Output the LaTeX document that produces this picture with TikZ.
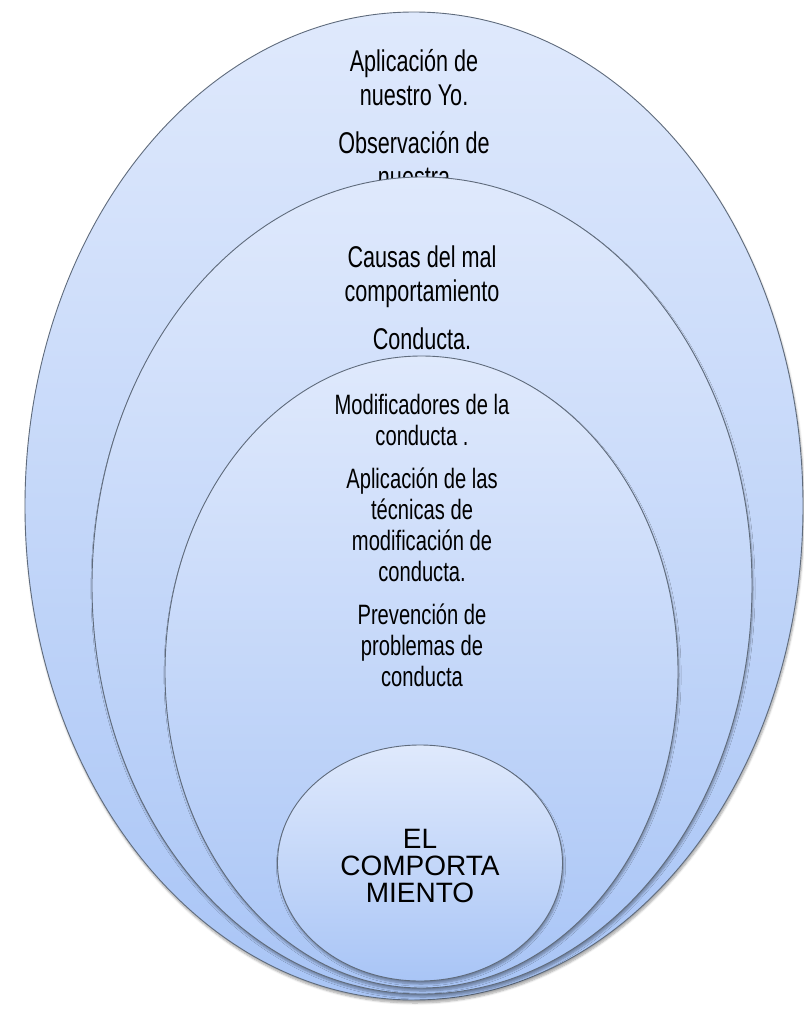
\documentclass[tikz,border=0pt]{standalone}
\usepackage{fontspec}
\setmainfont{Liberation Sans}
\newfontfamily\agency[FakeStretch=0.72]{Liberation Sans}
\usetikzlibrary{shapes.geometric,shadows.blur}
\definecolor{topblue}{HTML}{DFE9FC}
\definecolor{botblue}{HTML}{A9C5F6}
\definecolor{edgegray}{HTML}{5F6B7C}
\tikzset{
  ring/.style={ellipse, draw=edgegray, line width=0.9pt, top color=topblue, bottom color=botblue,
    inner sep=0pt, blur shadow={shadow xshift=1pt, shadow yshift=-3pt, shadow blur steps=6, shadow opacity=35}},
  lbl/.style={align=center, font=\agency\fontsize{30}{34}\selectfont, text=black, inner sep=0pt},
  lblsmall/.style={align=center, font=\agency\fontsize{28}{31}\selectfont, text=black, inner sep=0pt},
  core/.style={align=center, font=\fontsize{28}{27}\selectfont, text=black, inner sep=0pt}
}
\begin{document}
\begin{tikzpicture}[x=1pt,y=-1pt]
\useasboundingbox (0,0) rectangle (803,1009);
\node[ring, minimum width=778pt, minimum height=988pt] (outer) at (414,506) {};
\node[lbl] (t1) at (414,78) {Aplicación  de\\nuestro Yo.};
\node[lbl] (t2) at (414,160) {Observación  de\\nuestra};
\node[ring, minimum width=660pt, minimum height=817pt] (second) at (422,585.5) {};
\node[lbl] (t3) at (422,277) {Causas  del mal\\comportamiento};
\node[lbl] (t4) at (422,339) {Conducta.};
\node[ring, minimum width=513pt, minimum height=632pt] (third) at (421.5,672) {};
\node[lblsmall] (t5) at (422,419.5) {Modificadores  de la\\conducta  .};
\node[lblsmall] (t6) at (422,525) {Aplicación  de las\\técnicas  de\\modificación  de\\conducta.};
\node[lblsmall] (t7) at (422,645.5) {Prevención  de\\problemas  de\\conducta};
\node[ring, minimum width=285pt, minimum height=236pt] (inner) at (420,863) {};
\node[core] (t8) at (420,866) {EL\\COMPORTA\\MIENTO};
\end{tikzpicture}
\end{document}
